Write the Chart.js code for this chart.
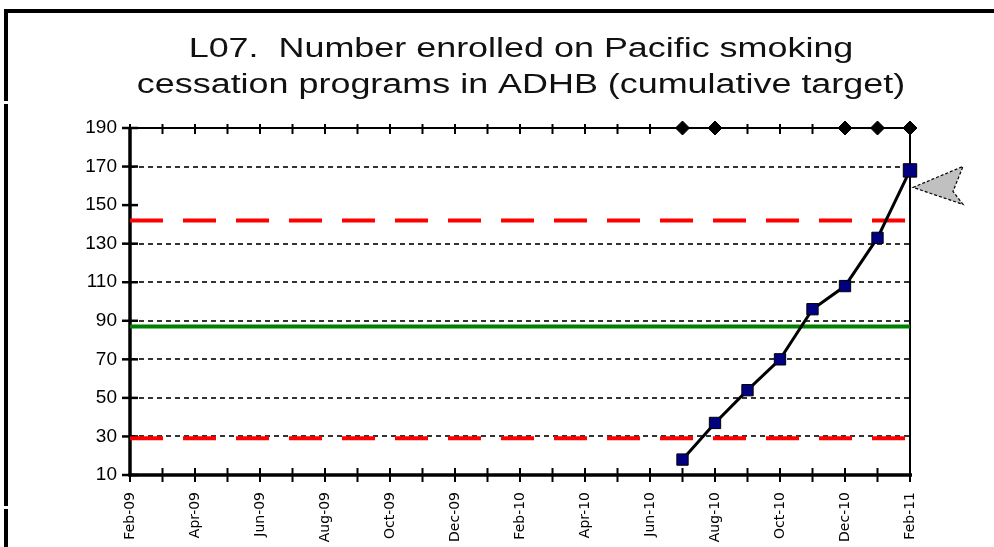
<!DOCTYPE html>
<html>
<head>
<meta charset="utf-8">
<title>L07 Pacific smoking cessation enrolments</title>
<script src="https://cdn.jsdelivr.net/npm/chart.js@4/dist/chart.umd.min.js"></script>
<style>
  html, body { margin: 0; padding: 0; background: #fff; }
  #wrap { position: relative; width: 994px; height: 547px; overflow: hidden; background: #fff; }
  #wrap canvas { position: absolute; left: 0; top: 0; }
  #frame { position: absolute; left: 4px; top: 9px; right: -10px; bottom: -10px;
           border-top: 4px solid #000; border-left: 4px solid #000; pointer-events: none; }
  .gap { position: absolute; left: 4px; width: 4px; height: 3px; background: #fff; }
</style>
</head>
<body>
<div id="wrap">
  <canvas id="chart" width="994" height="547"></canvas>
  <div id="frame"></div>
  <div class="gap" style="top:101px"></div>
  <div class="gap" style="top:506px"></div>
</div>
<script>
// Monthly reporting periods, Feb 2009 to Feb 2011
const months = [
  'Feb-09','Mar-09','Apr-09','May-09','Jun-09','Jul-09','Aug-09','Sep-09','Oct-09','Nov-09','Dec-09','Jan-10',
  'Feb-10','Mar-10','Apr-10','May-10','Jun-10','Jul-10','Aug-10','Sep-10','Oct-10','Nov-10','Dec-10','Jan-11','Feb-11'
];
const titleLines = [
  'L07.  Number enrolled on Pacific smoking',
  'cessation programs in ADHB (cumulative target)'
];
const yTicks = [10, 30, 50, 70, 90, 110, 130, 150, 170, 190];

// Cumulative number enrolled
const enrolledMonths = ['Jul-10','Aug-10','Sep-10','Oct-10','Nov-10','Dec-10','Jan-11','Feb-11'];
const enrolledValues = [18, 37, 54, 70, 96, 108, 133, 168];

// Reporting markers along the top of the chart
const markerMonths = ['Jul-10','Aug-10','Dec-10','Jan-11','Feb-11'];
const markerValue = 190;

// Reference lines
const upperLimit = 142;
const targetLine = 87;
const lowerLimit = 29;

const firstMonth = months[0];
const lastMonth = months[months.length - 1];
const flatLine = v => [{ x: firstMonth, y: v }, { x: lastMonth, y: v }];

// Axis lines, tick marks and right-hand border
const axesFrame = {
  id: 'axesFrame',
  beforeDatasetsDraw(chart) {
    const { ctx, chartArea: a, scales: { x, y } } = chart;
    const seg = (x1, y1, x2, y2) => { ctx.beginPath(); ctx.moveTo(x1, y1); ctx.lineTo(x2, y2); ctx.stroke(); };
    ctx.save();
    ctx.strokeStyle = '#000';
    ctx.lineCap = 'butt';
    ctx.lineWidth = 2;
    seg(a.left, a.top, a.right, a.top);
    seg(a.right, a.top, a.right, a.bottom);
    ctx.lineWidth = 3.5;
    seg(a.left, a.top, a.left, a.bottom + 1.5);
    seg(a.left - 1.5, a.bottom, a.right + 2, a.bottom);
    ctx.lineWidth = 2;
    x.ticks.forEach((t, i) => {
      const px = x.getPixelForTick(i);
      seg(px, a.bottom - 7, px, a.bottom + 7);
      seg(px, a.top - 4, px, a.top + 6);
    });
    ctx.lineWidth = 2.5;
    y.ticks.forEach((t, i) => {
      const py = y.getPixelForTick(i);
      seg(a.left - 8, py, a.left + 8, py);
    });
    ctx.restore();
  }
};

// Pointer next to the latest value
const latestPointer = {
  id: 'latestPointer',
  afterDatasetsDraw(chart) {
    const meta = chart.getDatasetMeta(0);
    const pt = meta.data[meta.data.length - 1];
    if (!pt) return;
    const { ctx } = chart;
    const px = pt.x, py = pt.y;
    ctx.save();
    ctx.beginPath();
    ctx.moveTo(px + 3, py + 17);
    ctx.lineTo(px + 53, py - 4);
    ctx.lineTo(px + 43, py + 21);
    ctx.lineTo(px + 53, py + 34);
    ctx.closePath();
    ctx.fillStyle = '#c0c0c0';
    ctx.fill();
    ctx.setLineDash([3, 2]);
    ctx.lineWidth = 1.2;
    ctx.strokeStyle = '#000';
    ctx.stroke();
    ctx.restore();
  }
};

// Two-line heading centred over the plot area
const heading = {
  id: 'heading',
  afterDraw(chart) {
    const { ctx, chartArea: a } = chart;
    const cx = (a.left + a.right) / 2 + 1;
    ctx.save();
    ctx.fillStyle = '#111';
    ctx.font = '27px "Liberation Sans", Arial, sans-serif';
    ctx.textAlign = 'center';
    ctx.textBaseline = 'alphabetic';
    titleLines.forEach((line, i) => {
      ctx.save();
      ctx.translate(cx, 57 + i * 36);
      ctx.scale(1.33, 1);
      ctx.fillText(line, 0, 0);
      ctx.restore();
    });
    ctx.restore();
  }
};

new Chart(document.getElementById('chart'), {
  type: 'line',
  data: {
    labels: months,
    datasets: [
      {
        label: 'Number enrolled',
        data: enrolledMonths.map((m, i) => ({ x: m, y: enrolledValues[i] })),
        borderColor: '#000',
        borderWidth: 3,
        pointStyle: 'rect',
        pointRadius: c => (c.dataIndex === enrolledValues.length - 1 ? 9.5 : 8),
        pointBackgroundColor: '#000080',
        pointBorderColor: '#000',
        pointBorderWidth: 1,
        tension: 0,
        clip: false,
        order: 0
      },
      {
        label: 'Reported',
        data: markerMonths.map(m => ({ x: m, y: markerValue })),
        showLine: false,
        pointStyle: 'rectRot',
        pointRadius: 7,
        pointBackgroundColor: '#000',
        pointBorderColor: '#000',
        pointBorderWidth: 1,
        clip: false,
        order: 1
      },
      {
        label: 'Target',
        data: flatLine(targetLine),
        borderColor: '#008000',
        borderWidth: 4,
        pointRadius: 0,
        clip: false,
        order: 2
      },
      {
        label: 'Upper limit',
        data: flatLine(upperLimit),
        borderColor: '#ff0000',
        borderWidth: 4,
        borderDash: [33, 20],
        borderCapStyle: 'butt',
        pointRadius: 0,
        clip: false,
        order: 3
      },
      {
        label: 'Lower limit',
        data: flatLine(lowerLimit),
        borderColor: '#ff0000',
        borderWidth: 4,
        borderDash: [33, 20],
        borderCapStyle: 'butt',
        pointRadius: 0,
        clip: false,
        order: 3
      }
    ]
  },
  options: {
    responsive: false,
    animation: false,
    events: [],
    layout: { padding: { top: 128, right: 84, bottom: 0, left: 0 } },
    plugins: {
      legend: { display: false },
      tooltip: { enabled: false },
      title: { display: false }
    },
    scales: {
      x: {
        type: 'category',
        offset: false,
        grid: { display: false },
        border: { display: false },
        ticks: {
          autoSkip: false,
          minRotation: 90,
          maxRotation: 90,
          padding: 9,
          color: '#000',
          font: { family: '"DejaVu Sans", sans-serif', size: 14 },
          callback: (v, i) => (i % 2 === 0 ? months[i] : '')
        },
        afterFit: s => { s.height = 72; }
      },
      y: {
        type: 'linear',
        min: yTicks[0],
        max: yTicks[yTicks.length - 1],
        afterBuildTicks: s => { s.ticks = yTicks.map(v => ({ value: v })); },
        grid: {
          drawTicks: false,
          lineWidth: 2,
          color: c => (c.tick && [10, 150, 190].includes(c.tick.value)) ? 'rgba(0,0,0,0)' : '#333'
        },
        border: { display: false, dash: [5, 4] },
        ticks: {
          padding: 13,
          color: '#000',
          font: { family: '"Liberation Sans", Arial, sans-serif', size: 19 }
        },
        afterFit: s => { s.width = 130; }
      }
    }
  },
  plugins: [axesFrame, latestPointer, heading]
});
</script>
</body>
</html>
